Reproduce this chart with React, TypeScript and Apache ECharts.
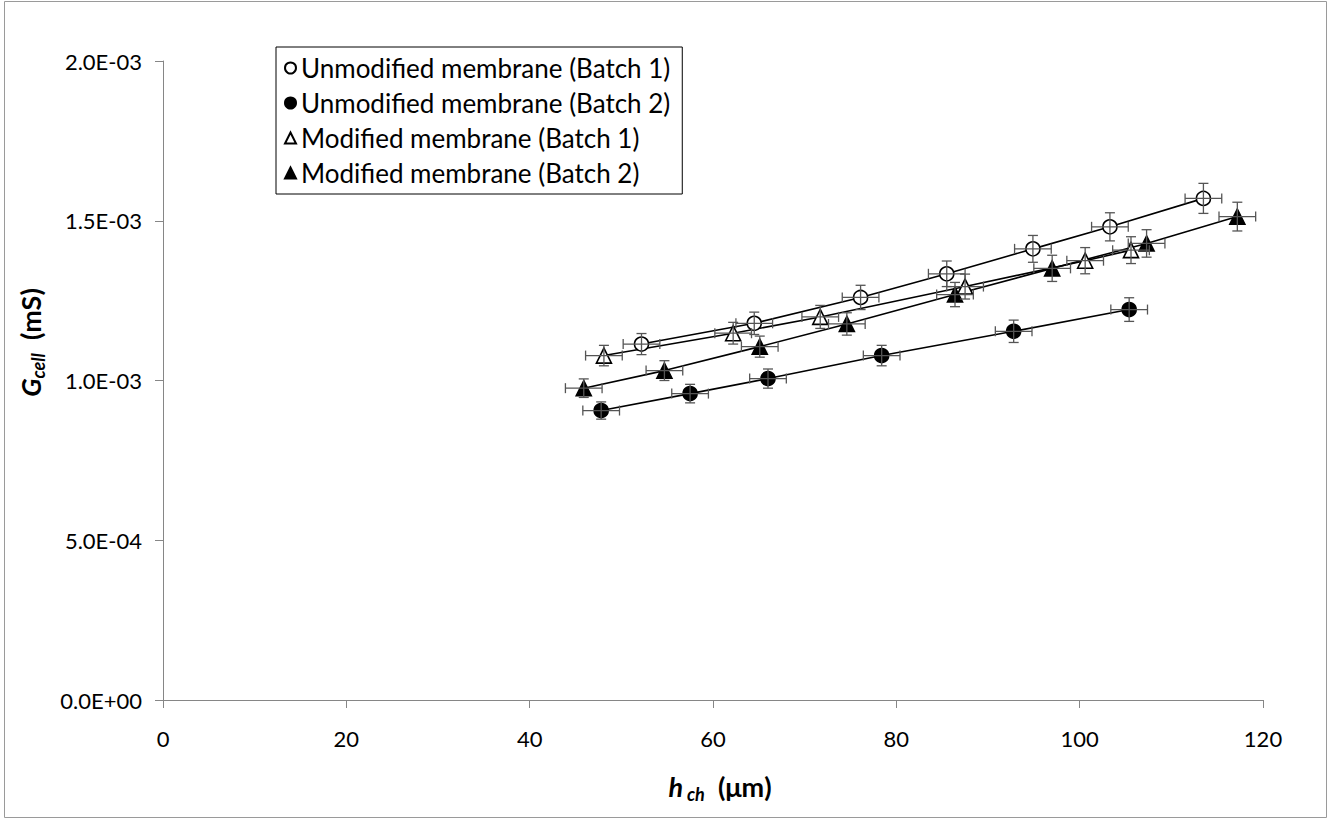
import React, { useEffect, useRef } from "react";
import * as echarts from "echarts";

const seriesNames = [
  "Unmodified membrane (Batch 1)",
  "Unmodified membrane (Batch 2)",
  "Modified membrane (Batch 1)",
  "Modified membrane (Batch 2)",
];

// h_ch (µm)
const u1X = [52.2, 64.5, 76.1, 85.5, 94.9, 103.3, 113.5];
const u1Y = [1.114e-3, 1.179e-3, 1.26e-3, 1.334e-3, 1.412e-3, 1.481e-3, 1.57e-3];
const u1Ex = [2, 2, 2, 2, 2, 2, 2];
const u1Ey = [0.033e-3, 0.035e-3, 0.038e-3, 0.04e-3, 0.042e-3, 0.044e-3, 0.047e-3];

const u2X = [47.8, 57.5, 66.0, 78.4, 92.8, 105.4];
const u2Y = [0.906e-3, 0.959e-3, 1.006e-3, 1.078e-3, 1.154e-3, 1.222e-3];
const u2Ex = [2, 2, 2, 2, 2, 2];
const u2Ey = [0.027e-3, 0.029e-3, 0.03e-3, 0.032e-3, 0.035e-3, 0.037e-3];

const m1X = [48.1, 62.2, 71.7, 87.5, 100.6, 105.6];
const m1Y = [1.078e-3, 1.148e-3, 1.199e-3, 1.294e-3, 1.375e-3, 1.408e-3];
const m1Ex = [2, 2, 2, 2, 2, 2];
const m1Ey = [0.032e-3, 0.034e-3, 0.036e-3, 0.039e-3, 0.041e-3, 0.042e-3];

const m2X = [45.9, 54.7, 65.1, 74.6, 86.4, 97.0, 107.3, 117.2];
const m2Y = [0.976e-3, 1.031e-3, 1.106e-3, 1.177e-3, 1.269e-3, 1.351e-3, 1.429e-3, 1.513e-3];
const m2Ex = [2, 2, 2, 2, 2, 2, 2, 2];
const m2Ey = [0.029e-3, 0.031e-3, 0.033e-3, 0.035e-3, 0.038e-3, 0.041e-3, 0.043e-3, 0.045e-3];

const xTicks = { min: 0, max: 120, interval: 20 };
const yTicks = { min: 0, max: 0.002, interval: 0.0005 };

const FONT = "Lato, 'Open Sans', sans-serif";

function fmtExp(v: number): string {
  if (v === 0) return "0.0E+00";
  const s = v.toExponential(1);
  const [m, e] = s.split("e");
  const n = parseInt(e, 10);
  const sign = n < 0 ? "-" : "+";
  const abs = Math.abs(n).toString().padStart(2, "0");
  return `${m}E${sign}${abs}`;
}

export default function App() {
  const ref = useRef<HTMLDivElement>(null);
  useEffect(() => {
    if (!ref.current) return;
    const chart = echarts.init(ref.current, undefined, { renderer: "svg" });

    const groups = [
      { name: seriesNames[0], x: u1X, y: u1Y, ex: u1Ex, ey: u1Ey, symbol: "circle", fill: "#ffffff", size: 14, icon: "circle" },
      { name: seriesNames[1], x: u2X, y: u2Y, ex: u2Ex, ey: u2Ey, symbol: "circle", fill: "#000000", size: 14, icon: "circle" },
      { name: seriesNames[2], x: m1X, y: m1Y, ex: m1Ex, ey: m1Ey, symbol: "triangle", fill: "#ffffff", size: 15, icon: "triangle" },
      { name: seriesNames[3], x: m2X, y: m2Y, ex: m2Ex, ey: m2Ey, symbol: "triangle", fill: "#000000", size: 15, icon: "triangle" },
    ];

    const lineSeries = groups.map((g) => ({
      type: "line",
      name: g.name,
      data: g.x.map((xv, i) => [xv, g.y[i]]),
      symbol: g.symbol,
      symbolSize: g.size,
      showAllSymbol: true,
      lineStyle: { color: "#000000", width: 1.6 },
      itemStyle: { color: g.fill, borderColor: "#000000", borderWidth: 1.6 },
      z: 3,
    }));

    const errSeries = groups.map((g) => ({
      type: "custom",
      name: g.name + " error",
      data: g.x.map((xv, i) => [xv, g.y[i], g.ex[i], g.ey[i]]),
      encode: { x: 0, y: 1 },
      z: 4,
      silent: true,
      renderItem: (params: any, api: any) => {
        const x = api.value(0);
        const y = api.value(1);
        const ex = api.value(2);
        const ey = api.value(3);
        const l = api.coord([x - ex, y]);
        const r = api.coord([x + ex, y]);
        const t = api.coord([x, y + ey]);
        const b = api.coord([x, y - ey]);
        const cap = 5;
        const st = { stroke: "#555555", lineWidth: 1.3 };
        const ln = (x1: number, y1: number, x2: number, y2: number) => ({
          type: "line",
          shape: { x1, y1, x2, y2 },
          style: st,
        });
        return {
          type: "group",
          children: [
            ln(l[0], l[1], r[0], r[1]),
            ln(l[0], l[1] - cap, l[0], l[1] + cap),
            ln(r[0], r[1] - cap, r[0], r[1] + cap),
            ln(t[0], t[1], b[0], b[1]),
            ln(t[0] - cap, t[1], t[0] + cap, t[1]),
            ln(b[0] - cap, b[1], b[0] + cap, b[1]),
          ],
        };
      },
    }));

    const axisLineStyle = { color: "#868686", width: 1 };
    const nameRich = {
      a: { fontFamily: FONT, fontSize: 27, fontWeight: "bold", fontStyle: "italic", color: "#000", verticalAlign: "middle", lineHeight: 34 },
      s: { fontFamily: FONT, fontSize: 18, fontWeight: "bold", fontStyle: "italic", color: "#000", verticalAlign: "bottom", lineHeight: 34 },
      u: { fontFamily: FONT, fontSize: 27, fontWeight: "bold", color: "#000", verticalAlign: "middle", lineHeight: 34 },
    };

    chart.setOption({
      animation: false,
      backgroundColor: "#ffffff",
      textStyle: { fontFamily: FONT },
      grid: { left: 163, right: 66, top: 61, bottom: 120, containLabel: false },
      legend: {
        orient: "vertical",
        left: 276,
        top: 47,
        data: groups.map((g) => ({ name: g.name, icon: g.icon })),
        itemWidth: 11,
        itemHeight: 11,
        itemGap: 9,
        padding: [8, 12, 8, 8],
        borderColor: "#000000",
        borderWidth: 1,
        backgroundColor: "#ffffff",
        textStyle: { fontFamily: FONT, fontSize: 26, color: "#000000", lineHeight: 26 },
        selectedMode: false,
      },
      xAxis: {
        type: "value",
        min: xTicks.min,
        max: xTicks.max,
        interval: xTicks.interval,
        splitLine: { show: false },
        axisLine: { show: true, onZero: false, lineStyle: axisLineStyle },
        axisTick: { show: true, inside: false, length: 8, lineStyle: axisLineStyle },
        axisLabel: { fontFamily: FONT, fontSize: 22, color: "#000000", margin: 27 },
        name: "{a|h}{s| ch}{u|  (μm)}",
        nameLocation: "middle",
        nameGap: 69,
        nameTextStyle: { padding: [0, 0, 0, 14], rich: nameRich },
      },
      yAxis: {
        type: "value",
        min: yTicks.min,
        max: yTicks.max,
        interval: yTicks.interval,
        splitLine: { show: false },
        axisLine: { show: true, onZero: false, lineStyle: axisLineStyle },
        axisTick: { show: true, inside: false, length: 8, lineStyle: axisLineStyle },
        axisLabel: { fontFamily: FONT, fontSize: 22, color: "#000000", margin: 21, formatter: (v: number) => fmtExp(v) },
        name: "{a|G}{s|cell}{u|  (mS)}",
        nameLocation: "middle",
        nameRotate: 90,
        nameGap: 116,
        nameTextStyle: { padding: [0, 0, 0, 76], rich: nameRich },
      },
      graphic: [
        {
          type: "rect",
          shape: { x: 4.5, y: 1.5, width: 1322, height: 816 },
          style: { fill: "none", stroke: "#9a9a9a", lineWidth: 1 },
          silent: true,
          z: -1,
        },
      ],
      series: [...lineSeries, ...errSeries],
    });

    return () => chart.dispose();
  }, []);

  return (
    <div
      ref={ref}
      style={{ position: "absolute", left: 0, top: 0, width: 1329, height: 820 }}
    />
  );
}
